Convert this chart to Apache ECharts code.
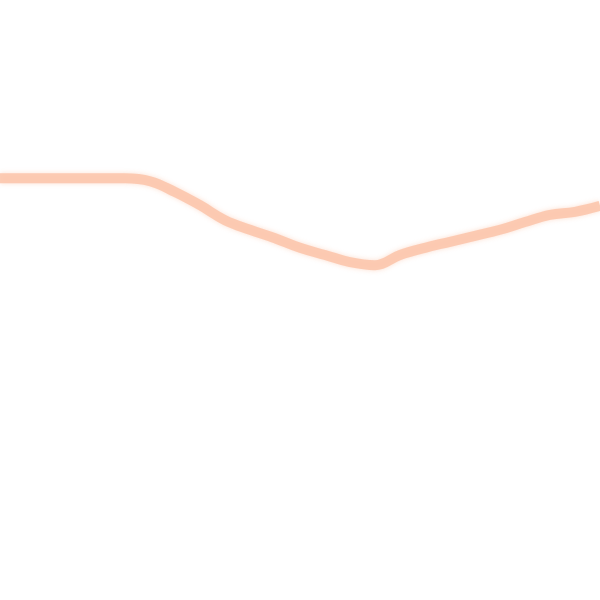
<!DOCTYPE html>
<html>
<head>
<meta charset="utf-8">
<script src="https://cdn.jsdelivr.net/npm/echarts@6/dist/echarts.min.js"></script>
<style>html,body{margin:0;padding:0;background:#fff}#c{width:600px;height:600px}</style>
</head>
<body>
<div id="c"></div>
<script>
const categories = ['0','25','50','75','100','125','150','175','200','225','250','275','300','325','350','375','400','425','450','475','500','525','550','575','600'];
const values = [70.3,70.3,70.3,70.3,70.3,70.3,69.8,68.0,65.8,63.3,61.7,60.3,58.7,57.5,56.3,55.8,57.5,58.7,59.7,60.7,61.7,63.0,64.2,64.7,65.7];

const chart = echarts.init(document.getElementById('c'));
chart.setOption({
  animation: false,
  backgroundColor: '#ffffff',
  grid: {left: 0, right: 0, top: 0, bottom: 0},
  xAxis: {type: 'category', data: categories, boundaryGap: false, show: false},
  yAxis: {type: 'value', min: 0, max: 100, show: false},
  series: [{
    type: 'line',
    data: values,
    smooth: 0.4,
    symbol: 'none',
    lineStyle: {color: '#fcc6ad', width: 10, opacity: 0.9, shadowColor: 'rgba(252,210,190,0.8)', shadowBlur: 5}
  }]
});
</script>
</body>
</html>
